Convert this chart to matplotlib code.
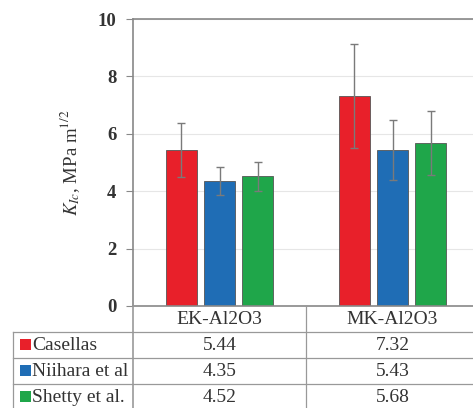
import matplotlib
matplotlib.use("Agg")
import matplotlib.pyplot as plt
from matplotlib.patches import Rectangle
from matplotlib.lines import Line2D
import numpy as np

categories = ["EK-Al2O3", "MK-Al2O3"]
series = ["Casellas", "Niihara et al", "Shetty et al."]
series_labels = ["Casellas", "Niihara et al", "Shetty et al."]
values = {
    "Casellas": [5.44, 7.32],
    "Niihara et al": [4.35, 5.43],
    "Shetty et al.": [4.52, 5.68],
}
errors = {
    "Casellas": [0.93, 1.80],
    "Niihara et al": [0.48, 1.04],
    "Shetty et al.": [0.51, 1.10],
}
colors = ["#E8202A", "#1F6DB5", "#1FA64A"]
yticks = [0, 2, 4, 6, 8, 10]

plt.rcParams['font.family'] = ['Liberation Serif', 'DejaVu Serif']
plt.rcParams['mathtext.fontset'] = 'stix'

W, H = 473, 408
fig = plt.figure(figsize=(W / 100, H / 100), dpi=100)
fig.patch.set_facecolor("white")

ax_l, ax_r, ax_t, ax_b = 133, 479, 19, 306
ax = fig.add_axes([ax_l / W, 1 - ax_b / H, (ax_r - ax_l) / W, (ax_b - ax_t) / H])

x = np.arange(len(categories))
offsets = [-0.22, 0.0, 0.22]
bw = 0.18
for i, s in enumerate(series):
    ax.bar(x + offsets[i], values[s], width=bw, color=colors[i],
           edgecolor="#555555", linewidth=0.6, zorder=2)
    ax.errorbar(x + offsets[i], values[s], yerr=errors[s], fmt="none",
                ecolor="#7a7a7a", elinewidth=1, capsize=3, capthick=1, zorder=3)

ax.set_xlim(-0.5, 1.5)
ax.set_ylim(0, 10)
ax.set_yticks(yticks)
ax.set_yticklabels([str(t) for t in yticks], fontsize=13.5, fontweight="bold", color="#333333")
ax.set_xticks([])
ax.tick_params(axis="y", direction="out", length=5, width=0.8, color="#888888", pad=7)
ax.grid(axis="y", color="#e6e6e6", linewidth=0.8, zorder=0)
ax.set_axisbelow(True)
for sp in ["left", "top", "bottom"]:
    ax.spines[sp].set_color("#888888")
    ax.spines[sp].set_linewidth(1.2)
ax.spines["right"].set_visible(False)
ax.set_ylabel(r"$K_{Ic}$, MPa m$^{1/2}$", fontsize=13.5, color="#333333", labelpad=11)

# Table drawn in figure pixel coordinates
def fx(px):
    return px / W

def fy(py):
    return 1 - py / H

line_c = "#999999"
lw = 0.9
row_lines = [332, 358, 384]
for yy in row_lines:
    fig.add_artist(Line2D([fx(13), fx(W)], [fy(yy), fy(yy)], color=line_c, lw=lw))
fig.add_artist(Line2D([fx(133), fx(133)], [fy(306), fy(H)], color=line_c, lw=1.2))
fig.add_artist(Line2D([fx(306), fx(306)], [fy(306), fy(H)], color=line_c, lw=lw))
fig.add_artist(Line2D([fx(13), fx(13)], [fy(332), fy(H)], color=line_c, lw=lw))

fs = 14
col_centers = [219.5, 392.5]
header_y = 319
row_y = [345, 371, 397]
for j, c in enumerate(categories):
    fig.text(fx(col_centers[j]), fy(header_y), c, ha="center", va="center",
             fontsize=fs, color="#333333")
for i, s in enumerate(series):
    fig.add_artist(Rectangle((fx(20), fy(row_y[i] + 5)), 11 / W, 11 / H,
                             facecolor=colors[i], edgecolor="none"))
    fig.text(fx(32), fy(row_y[i]), series_labels[i], ha="left", va="center",
             fontsize=fs, color="#333333")
    for j in range(len(categories)):
        fig.text(fx(col_centers[j]), fy(row_y[i]), f"{values[s][j]:.2f}",
                 ha="center", va="center", fontsize=fs, color="#333333")

fig.savefig("out.png", dpi=100, facecolor="white")
